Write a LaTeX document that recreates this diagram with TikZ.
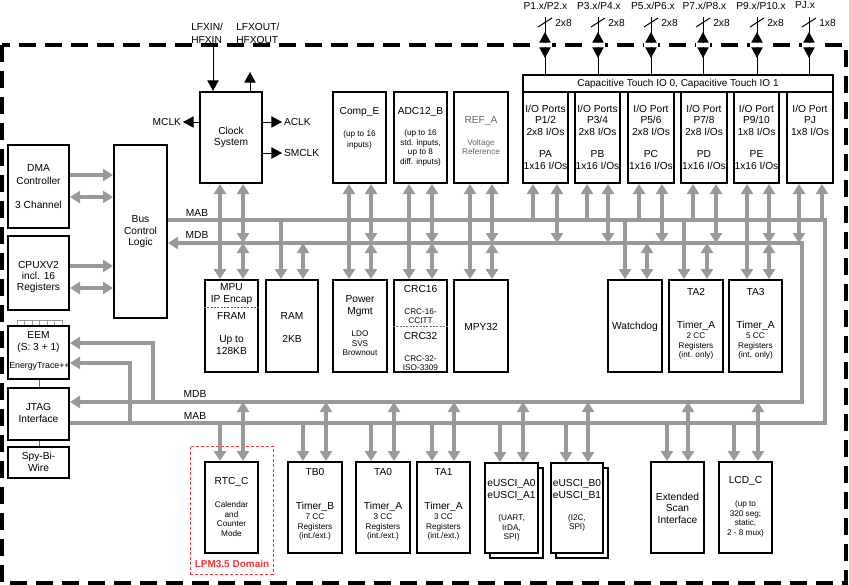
\documentclass[tikz,border=0pt]{standalone}
\usepackage{fontspec}
\setmainfont{Liberation Sans}
\usepackage{tikz}
\usetikzlibrary{arrows.meta}
\definecolor{zzzzzz}{rgb}{0.6,0.6,0.6}
\definecolor{wwwwww}{rgb}{0.4,0.4,0.4}
\definecolor{fftttt}{rgb}{1.,0.2,0.2}
\newcommand{\bigf}{\fontsize{7.65pt}{8.6pt}\selectfont}
\newcommand{\smf}{\fontsize{6.15pt}{7.1pt}\selectfont}
\newcommand{\bx}[6][blk]{\node[#1,minimum width={(#5-#3)*0.75pt},minimum height={(#6-#4)*0.75pt}] (#2) at ({(#3+#5)/2},{(#4+#6)/2}) {};}
\tikzstyle{every node}=[font=\bigf,inner sep=0pt,align=center]
\tikzstyle{blk}=[draw,fill=white,line width=1.5pt]
\tikzstyle{lpm}=[draw=fftttt,line width=0.75pt,dash pattern=on 2.25pt off 1.5pt]
\tikzstyle{bus}=[line width=2.5pt,color=zzzzzz,>={Triangle[length=7.5pt,width=9pt]}]
\tikzstyle{sig}=[line width=0.75pt,>={Triangle[length=8pt,width=8.5pt]}]
\tikzstyle{sep}=[line width=0.5pt,color=wwwwww,dash pattern=on 1.5pt off 1pt]

\begin{document}
\begin{tikzpicture}[line cap=butt,line join=miter,x=0.75pt,y=-0.75pt]
\useasboundingbox (0,0) rectangle (849,585);
\draw[line width=2.5pt,dash pattern=on 13pt off 6.5pt] (2,45) rectangle (846,583);
% top row
\bx{clk}{200}{92}{262}{183}
\bx{comp}{333}{92}{386}{183}
\bx{adc}{394}{92}{447}{183}
\bx{ref}{454}{92}{508}{183}
\bx{ct}{523}{75}{833}{92}
\bx{pa}{523}{92}{568}{183}
\bx{pb}{575}{92}{620}{183}
\bx{pc}{628}{92}{674}{183}
\bx{pd}{681}{92}{727}{183}
\bx{pe}{734}{92}{779}{183}
\bx{pj}{787}{92}{833}{183}
% left column
\bx{dma}{8}{145}{69}{228}
\bx{cpu}{8}{236}{69}{310}
\bx{eem}{8}{326}{69}{379}
\bx{jtag}{8}{388}{69}{440}
\bx{sbw}{8}{447}{69}{478}
\bx{bcl}{114}{145}{167}{318}
% middle row
\bx{mpu}{205}{280}{258}{372}
\bx{ram}{266}{280}{318}{372}
\bx{pwr}{333}{280}{387}{372}
\bx{crc}{394}{280}{447}{372}
\bx{mpy}{454}{280}{508}{372}
\bx{wdt}{608}{280}{662}{372}
\bx{ta2}{669}{280}{723}{372}
\bx{ta3}{729}{280}{782}{372}
% bottom row
\bx[lpm]{lpmd}{190}{446}{273}{574}
\bx{rtc}{205}{462}{258}{553}
\bx{tb0}{288}{462}{342}{553}
\bx{ta0}{356}{462}{410}{553}
\bx{ta1}{417}{462}{470}{553}
\bx{uas}{490}{468}{543}{558}
\bx{ua}{485}{463}{538}{553}
\bx{ubs}{556}{468}{608}{558}
\bx{ub}{551}{463}{603}{553}
\bx{esi}{651}{462}{704}{553}
\bx{lcd}{719}{462}{772}{553}

% texts
\node (clk-t) at (231,137.5) {Clock\\System};
\node[align=left,anchor=west] (lfin) at (191,33.5) {LFXIN/\\[1pt]HFXIN};
\node[align=left,anchor=west] (lfout) at (236,33.5) {LFXOUT/\\[1pt]HFXOUT};
\node[anchor=east,outer sep=1.5pt] (mclk) at (183,122) {MCLK};
\node[anchor=west,outer sep=1.5pt] (aclk) at (282,122) {ACLK};
\node[anchor=west,outer sep=1.5pt] (smclk) at (282,153) {SMCLK};
\node (comp-t) at (359.5,112) {Comp\_E};
\node[font=\smf] (comp-d) at (359.5,139.5) {(up to 16\\[1pt]inputs)};
\node (adc-t) at (420.5,112) {ADC12\_B};
\node[font=\smf] (adc-d) at (420.5,148) {(up to 16\\std. inputs,\\up to 8\\diff. inputs)};
\node[text=wwwwww] (ref-t) at (481,121) {REF\_A};
\node[font=\smf,text=wwwwww] (ref-d) at (481,147) {Voltage\\Reference};
\node[font=\fontsize{7.5pt}{8.6pt}\selectfont] (ct-t) at (678,84) {Capacitive Touch IO 0, Capacitive Touch IO 1};
\node (pa-t) at (545.5,120) {I/O Ports\\P1/2\\2x8 I/Os};
\node (pa-d) at (545.5,160) {PA\\1x16 I/Os};
\node (pb-t) at (597.5,120) {I/O Ports\\P3/4\\2x8 I/Os};
\node (pb-d) at (597.5,160) {PB\\1x16 I/Os};
\node (pc-t) at (651,120) {I/O Port\\P5/6\\2x8 I/Os};
\node (pc-d) at (651,160) {PC\\1x16 I/Os};
\node (pd-t) at (704,120) {I/O Port\\P7/8\\2x8 I/Os};
\node (pd-d) at (704,160) {PD\\1x16 I/Os};
\node (pe-t) at (756.5,120) {I/O Port\\P9/10\\1x8 I/Os};
\node (pe-d) at (756.5,160) {PE\\1x16 I/Os};
\node (pj-t) at (810,120) {I/O Port\\PJ\\1x8 I/Os};
\node (sp1) at (545.5,5.5) {P1.x/P2.x};
\node (sp3) at (599,5.5) {P3.x/P4.x};
\node (sp5) at (653,5.5) {P5.x/P6.x};
\node (sp7) at (704.5,5.5) {P7.x/P8.x};
\node (sp9) at (761,5.5) {P9.x/P10.x};
\node (spj) at (805,5.5) {PJ.x};
\node (dma-t) at (38.5,174.5) {DMA\\[1pt]Controller};
\node (dma-d) at (38.5,205) {3 Channel};
\node (cpu-t) at (38.5,277) {CPUXV2\\incl. 16\\Registers};
\node (eem-t) at (38.5,342) {EEM\\(S: 3 + 1)};
\node[font=\fontsize{6.6pt}{7.5pt}\selectfont,anchor=west] (eem-d) at (9,366) {EnergyTrace++};
\node (jtag-t) at (38.5,413) {JTAG\\Interface};
\node (sbw-t) at (38.5,462) {Spy-Bi-\\Wire};
\node (bcl-t) at (140.5,232) {Bus\\Control\\Logic};
\node (mab-t) at (197,213) {MAB};
\node (mdb-t) at (197,235) {MDB};
\node (mdbb-t) at (195,394) {MDB};
\node (mabb-t) at (195,416) {MAB};
\node (mpu-t) at (231.5,294) {MPU\\IP Encap};
\node (mpu-m) at (231.5,316) {FRAM};
\node (mpu-d) at (231.5,345) {Up to\\128KB};
\node (ram-t) at (292,316) {RAM};
\node (ram-d) at (292,339) {2KB};
\node (pwr-t) at (360,306) {Power\\Mgmt};
\node[font=\smf] (pwr-d) at (360,343.5) {LDO\\SVS\\Brownout};
\node (crc-t) at (420.5,289) {CRC16};
\node[font=\smf] (crc-a) at (420.5,316) {CRC-16-\\CCITT};
\node (crc-m) at (420.5,336) {CRC32};
\node[font=\smf] (crc-b) at (420.5,363) {CRC-32-\\ISO-3309};
\node (mpy-t) at (481,327) {MPY32};
\node (wdt-t) at (635,327) {Watchdog};
\node (ta2-t) at (696,292) {TA2};
\node (ta2-m) at (696,326) {Timer\_A};
\node[font=\smf] (ta2-d) at (696,346) {2 CC\\Registers\\(int. only)};
\node (ta3-t) at (755.5,292) {TA3};
\node (ta3-m) at (755.5,326) {Timer\_A};
\node[font=\smf] (ta3-d) at (755.5,346) {5 CC\\Registers\\(int. only)};
\node (rtc-t) at (231.5,482) {RTC\_C};
\node[font=\smf] (rtc-d) at (231.5,519) {Calendar\\and\\Counter\\Mode};
\node[font=\fontsize{7.5pt}{8.6pt}\selectfont\bfseries,text=fftttt] (lpm-t) at (232,564) {LPM3.5 Domain};
\node (tb0-t) at (315,472) {TB0};
\node (tb0-m) at (315,507) {Timer\_B};
\node[font=\smf] (tb0-d) at (315,527) {7 CC\\Registers\\(int./ext.)};
\node (ta0-t) at (383,472) {TA0};
\node (ta0-m) at (383,507) {Timer\_A};
\node[font=\smf] (ta0-d) at (383,527) {3 CC\\Registers\\(int./ext.)};
\node (ta1-t) at (443.5,472) {TA1};
\node (ta1-m) at (443.5,507) {Timer\_A};
\node[font=\smf] (ta1-d) at (443.5,527) {3 CC\\Registers\\(int./ext.)};
\node (ua-t) at (511.5,490) {eUSCI\_A0\\eUSCI\_A1};
\node[font=\smf] (ua-d) at (511.5,528) {(UART,\\IrDA,\\SPI)};
\node (ub-t) at (577,490) {eUSCI\_B0\\eUSCI\_B1};
\node[font=\smf] (ub-d) at (577,523) {(I2C,\\SPI)};
\node (esi-t) at (677.5,508) {Extended\\Scan\\Interface};
\node (lcd-t) at (745.5,481) {LCD\_C};
\node[font=\smf] (lcd-d) at (745.5,519) {(up to\\320 seg;\\static,\\2 - 8 mux)};

% dashed splits
\draw[sep] (mpu.west |- 0,307) -- (mpu.east |- 0,307);
\draw[sep] (crc.west |- 0,326) -- (crc.east |- 0,326);

% clock signals
\draw[sig,->] (lfin.south -| 213,0) -- (clk.north -| 213,0);
\coordinate (xout) at (250,72);
\draw[sig,->] (clk.north -| xout) -- (xout);
\draw[sig,->] (clk.west |- mclk) -- (mclk.east);
\draw[sig,->] (clk.east |- aclk) -- (aclk.west);
\draw[sig,->] (clk.east |- smclk) -- (smclk.west);

% port pins
\foreach \x/\w in {545/2x8,598/2x8,651/2x8,703/2x8,757/2x8,809/1x8}{
  \draw[sig] (\x,17) -- (ct.north -| \x,0);
  \fill[white] (\x-7,43) rectangle (\x+7,47);
  \draw[sig,->] (\x,43) -- (\x,32);
  \draw[sig,->] (\x,47) -- (\x,58);
  \draw[sig] (\x-7,27) -- (\x+7,18);
  \node[anchor=west] (w\x) at (\x+10,23) {\w};
}

% debug links
\foreach \x in {17,24.5,32,39.5,47,54.5,62}
  \draw[line width=0.5pt,color=zzzzzz] (\x,320) -- (eem.north -| \x,0);
\draw[line width=0.5pt,color=zzzzzz] (17,320) -- (62,320);
\draw[line width=0.5pt,color=wwwwww] (eem.south -| 39,0) -- (jtag.north -| 39,0);
\draw[line width=0.5pt,color=wwwwww] (jtag.south -| 39,0) -- (sbw.north -| 39,0);

% busses
\coordinate (mab) at (168,220);
\coordinate (mdb) at (168,243);
\coordinate (mabb) at (69,423);
\coordinate (mdbb) at (69,402);
\draw[bus] (bcl.east |- mab) -| (825,423) -- (jtag.east |- mabb);
\draw[bus,<->] (bcl.east |- mdb) -| (802,402) -- (jtag.east |- mdbb);
\draw[bus,->] (mdbb -| 153,0) |- (eem.east |- 0,343);
\draw[bus,->] (mabb -| 130,0) |- (eem.east |- 0,363);
\draw[bus,->] (dma.east |- 0,175) -- (bcl.west |- 0,175);
\draw[bus,<->] (dma.east |- 0,197) -- (bcl.west |- 0,197);
\draw[bus,->] (cpu.east |- 0,266) -- (bcl.west |- 0,266);
\draw[bus,<->] (cpu.east |- 0,288) -- (bcl.west |- 0,288);
\foreach \n/\a/\d in {clk/220/243,comp/349/371,adc/409/432,ref/470/492,pa/533/557,pb/587/608,pc/639/662,pd/693/716,pe/747/769,pj/822/799}{
  \draw[bus,->] (mab -| \a,0) -- (\n.south -| \a,0);
  \draw[bus,<->] (mdb -| \d,0) -- (\n.south -| \d,0);
}
\foreach \n/\a/\d in {mpu/220/243,ram/281/303,pwr/349/371,crc/409/432,mpy/470/492,wdt/625/647,ta2/684/707,ta3/747/769}{
  \draw[bus,->] (mab -| \a,0) -- (\n.north -| \a,0);
  \draw[bus,<->] (mdb -| \d,0) -- (\n.north -| \d,0);
}
\foreach \n/\a/\d in {rtc/220/243,tb0/303/326,ta0/371/394,ta1/432/454,ua/500/523,ub/566/588,esi/667/688,lcd/734/758}{
  \draw[bus,->] (mabb -| \a,0) -- (\n.north -| \a,0);
  \draw[bus,<->] (mdbb -| \d,0) -- (\n.north -| \d,0);
}
\end{tikzpicture}
\end{document}
